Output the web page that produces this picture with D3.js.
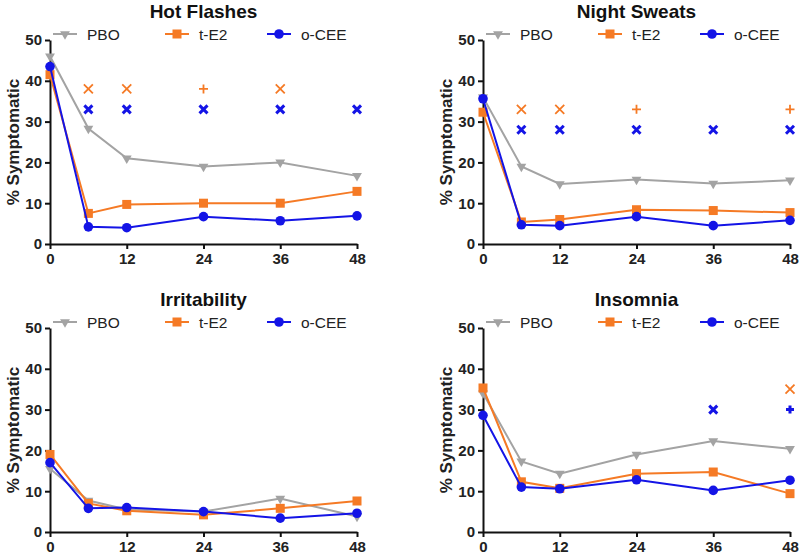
<!DOCTYPE html>
<html>
<head>
<meta charset="utf-8">
<script src="https://cdn.jsdelivr.net/npm/d3@7"></script>
<style>
  body { margin: 0; background: #fff; }
  svg { font-family: "Liberation Sans", Arial, sans-serif; }
</style>
</head>
<body>
<svg id="chart" width="800" height="558"></svg>
<script>
// Weeks on study
const weeks = [0, 6, 12, 24, 36, 48];
const xTicks = [0, 12, 24, 36, 48];
const yTicks = [0, 10, 20, 30, 40, 50];
const seriesNames = ["PBO", "t-E2", "o-CEE"];
const panelTitles = ["Hot Flashes", "Night Sweats", "Irritability", "Insomnia"];

// % symptomatic per panel, per series
const hotPBO = [46, 28.3, 21, 19, 20, 16.7];
const hotTE2 = [41.5, 7.5, 9.7, 10, 10, 12.9];
const hotCEE = [43.5, 4.2, 4.0, 6.7, 5.7, 6.9];

const nightPBO = [36, 19, 14.7, 15.8, 14.8, 15.6];
const nightTE2 = [32.3, 5.4, 6.0, 8.4, 8.2, 7.7];
const nightCEE = [35.6, 4.7, 4.5, 6.7, 4.5, 5.8];

const irrPBO = [15.5, 7.7, 5.5, 5.0, 8.2, 3.8];
const irrTE2 = [19, 7.0, 5.2, 4.2, 5.8, 7.6];
const irrCEE = [17, 5.8, 6.0, 5.0, 3.4, 4.6];

const insPBO = [34, 17.3, 14.3, 19, 22.3, 20.4];
const insTE2 = [35.3, 12.3, 10.7, 14.3, 14.7, 9.4];
const insCEE = [28.6, 11.0, 10.6, 12.8, 10.2, 12.7];

// significance marks: [week, y value, symbol, series]
const hotMarks = [
  [6, 38, "x", "t-E2"], [12, 38, "x", "t-E2"], [24, 38, "+", "t-E2"], [36, 38, "x", "t-E2"],
  [6, 33, "x", "o-CEE"], [12, 33, "x", "o-CEE"], [24, 33, "x", "o-CEE"], [36, 33, "x", "o-CEE"], [48, 33, "x", "o-CEE"]
];
const nightMarks = [
  [6, 33, "x", "t-E2"], [12, 33, "x", "t-E2"], [24, 33, "+", "t-E2"], [48, 33, "+", "t-E2"],
  [6, 28, "x", "o-CEE"], [12, 28, "x", "o-CEE"], [24, 28, "x", "o-CEE"], [36, 28, "x", "o-CEE"], [48, 28, "x", "o-CEE"]
];
const irrMarks = [];
const insMarks = [
  [48, 35, "x", "t-E2"], [36, 30, "x", "o-CEE"], [48, 30, "+", "o-CEE"]
];

const COLORS = { "PBO": "#a3a3a3", "t-E2": "#f57a25", "o-CEE": "#1414e6" };

const panels = [
  { title: panelTitles[0], series: [hotPBO, hotTE2, hotCEE], marks: hotMarks, ox: 0, oy: 0 },
  { title: panelTitles[1], series: [nightPBO, nightTE2, nightCEE], marks: nightMarks, ox: 433, oy: 0 },
  { title: panelTitles[2], series: [irrPBO, irrTE2, irrCEE], marks: irrMarks, ox: 0, oy: 288 },
  { title: panelTitles[3], series: [insPBO, insTE2, insCEE], marks: insMarks, ox: 433, oy: 288 }
];

const svg = d3.select("#chart");

const drawMarker = (g, name, x, y) => {
  const c = COLORS[name];
  if (name === "PBO") {
    g.append("path")
      .attr("d", d3.symbol().type(d3.symbolTriangle).size(42)())
      .attr("transform", `translate(${x},${y}) rotate(180)`)
      .style("fill", c);
  } else if (name === "t-E2") {
    g.append("rect")
      .attr("x", x - 4.5).attr("y", y - 4.5)
      .attr("width", 9).attr("height", 9)
      .style("fill", c);
  } else {
    g.append("circle").attr("cx", x).attr("cy", y).attr("r", 4.8).style("fill", c);
  }
};

panels.forEach((p) => {
  const g = svg.append("g").attr("transform", `translate(${p.ox},${p.oy})`);

  // Scales
  const x = d3.scaleLinear().domain([0, 48]).range([50, 357]);
  const y = d3.scaleLinear().domain([0, 50]).range([244, 40]);

  // Axes
  const xAxis = g.append("g").attr("transform", `translate(0,${y(0)})`)
    .call(d3.axisBottom(x).tickValues(xTicks).tickSize(5).tickPadding(4).tickSizeOuter(0));
  const yAxis = g.append("g").attr("transform", `translate(${x(0)},0)`)
    .call(d3.axisLeft(y).tickValues(yTicks).tickSize(5).tickPadding(3).tickSizeOuter(0));
  [xAxis, yAxis].forEach((a) => {
    a.select(".domain").style("stroke", "#111").style("stroke-width", 2);
    a.selectAll(".tick line").style("stroke", "#111").style("stroke-width", 2);
    a.selectAll(".tick text")
      .style("font-family", "Liberation Sans, Arial, sans-serif")
      .style("font-size", "15px").style("font-weight", "bold").style("fill", "#222");
  });

  // Title
  g.append("text")
    .attr("x", (x(0) + x(48)) / 2).attr("y", 18)
    .attr("text-anchor", "middle")
    .style("font-size", "19px").style("font-weight", "bold").style("fill", "#111")
    .text(p.title);

  // Y label
  g.append("text")
    .attr("transform", `translate(19,${(y(0) + y(50)) / 2}) rotate(-90)`)
    .attr("text-anchor", "middle")
    .style("font-size", "17px").style("font-weight", "bold").style("fill", "#222")
    .text("% Symptomatic");

  // Lines and markers
  const line = d3.line().x((d, i) => x(weeks[i])).y((d) => y(d));
  p.series.forEach((vals, si) => {
    const name = seriesNames[si];
    g.append("path")
      .attr("d", line(vals))
      .style("fill", "none")
      .style("stroke", COLORS[name])
      .style("stroke-width", 2);
    vals.forEach((v, i) => drawMarker(g, name, x(weeks[i]), y(v)));
  });

  // Significance marks
  p.marks.forEach(([wk, val, sym, name]) => {
    const cx = x(wk), cy = y(val);
    const bold = name === "o-CEE";
    const s = bold ? 4 : 4.5;
    const path = sym === "x"
      ? `M${cx - s},${cy - s}L${cx + s},${cy + s}M${cx - s},${cy + s}L${cx + s},${cy - s}`
      : `M${cx - s},${cy}L${cx + s},${cy}M${cx},${cy - s}L${cx},${cy + s}`;
    g.append("path")
      .attr("d", path)
      .style("stroke", COLORS[name])
      .style("stroke-width", bold ? 3 : 1.8)
      .style("fill", "none");
  });

  // Legend
  const legendX = [53, 165, 267];
  seriesNames.forEach((name, i) => {
    const lx = legendX[i], ly = 34;
    g.append("line")
      .attr("x1", lx).attr("x2", lx + 24).attr("y1", ly).attr("y2", ly)
      .style("stroke", COLORS[name]).style("stroke-width", 2);
    drawMarker(g, name, lx + 12, ly);
    g.append("text")
      .attr("x", lx + 34).attr("y", ly + 5.5)
      .style("font-size", "15.5px").style("fill", "#222")
      .text(name);
  });
});
</script>
</body>
</html>
